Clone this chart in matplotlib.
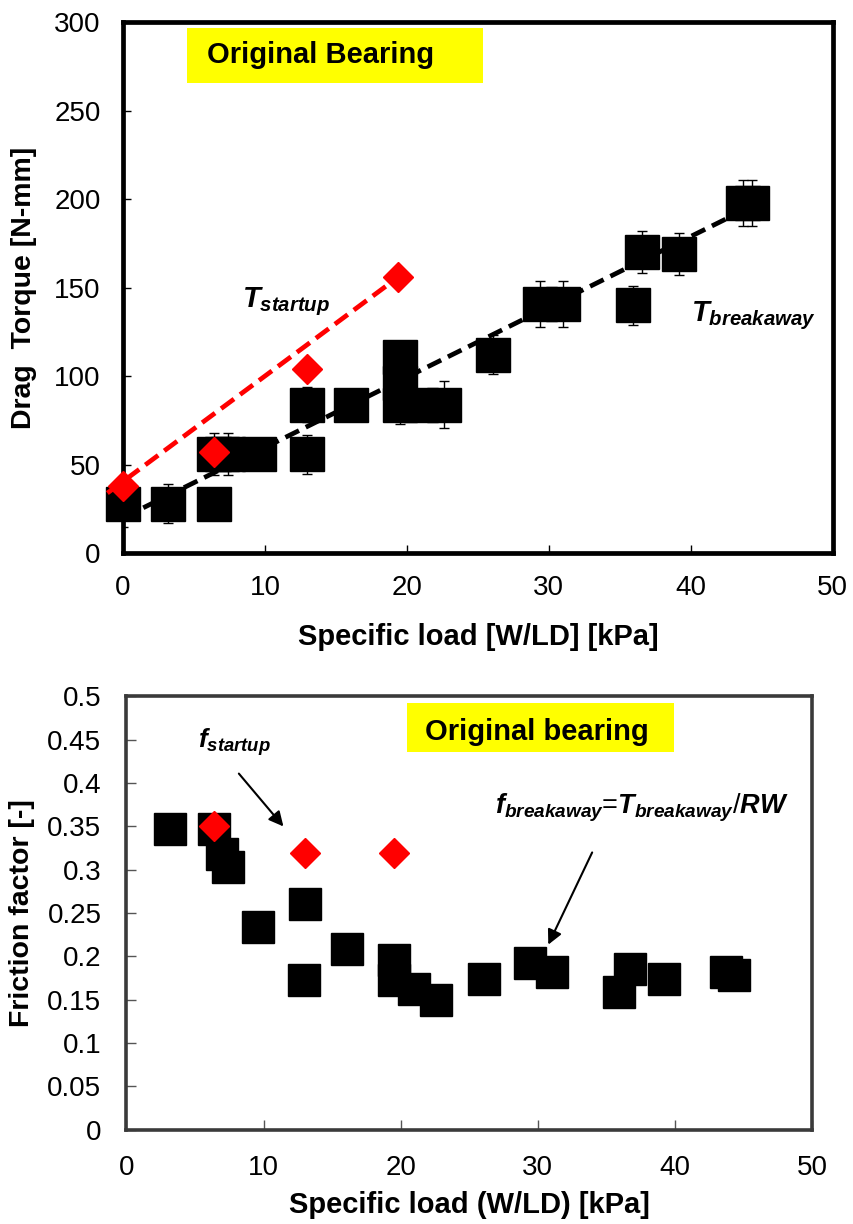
import matplotlib
matplotlib.use("Agg")
import matplotlib.pyplot as plt
from matplotlib.patches import Rectangle
from matplotlib.ticker import FuncFormatter, MultipleLocator

plt.rcParams['font.family'] = ['Liberation Sans', 'DejaVu Sans']
plt.rcParams['mathtext.fontset'] = 'custom'
plt.rcParams['mathtext.it'] = 'Liberation Sans:italic:bold'
plt.rcParams['mathtext.rm'] = 'Liberation Sans:bold'
plt.rcParams['mathtext.bf'] = 'Liberation Sans:bold'

# ---- Drag torque vs specific load ----
load_break = [0, 3.2, 6.4, 6.4, 7.0, 7.4, 9.6, 13.0, 13.0, 16.1, 19.5, 19.5, 19.5,
              21.0, 22.6, 26.1, 29.4, 31.0, 35.9, 36.6, 39.2, 43.7, 44.3]
torque_break = [28, 28, 28, 56, 56, 56, 56, 56, 84, 84, 84, 96, 111,
                84, 84, 112, 141, 141, 140, 170, 169, 198, 198]
torque_err = [13, 11, 0, 12, 0, 12, 0, 11, 10, 0, 11, 0, 0,
              0, 13, 11, 13, 13, 11, 12, 12, 13, 13]

load_start = [0, 6.4, 13.0, 19.4]
torque_start = [38, 57, 104, 156]

fit_break_x = [0, 43.8]
fit_break_y = [20, 194]
fit_start_x = [-1.1, 19.4]
fit_start_y = [34, 156]

# ---- Friction factor vs specific load ----
load_fric = [3.2, 6.4, 7.0, 7.4, 9.6, 13.0, 12.95, 16.1, 19.5, 19.5, 21.0, 22.6,
             26.1, 29.4, 31.0, 35.9, 36.7, 39.2, 43.7, 44.3]
fric_break = [0.347, 0.347, 0.318, 0.303, 0.234, 0.260, 0.173, 0.209, 0.196, 0.173,
              0.162, 0.150, 0.174, 0.192, 0.182, 0.159, 0.186, 0.174, 0.182, 0.179]
load_fric_start = [6.4, 13.0, 19.5]
fric_start = [0.350, 0.319, 0.319]

fig = plt.figure(figsize=(8.54, 12.24), dpi=100)

# ================= top panel =================
ax1 = fig.add_axes([0.144, 0.548, 0.831, 0.434])
ax1.plot(fit_break_x, fit_break_y, color='black', lw=3.4,
         linestyle=(0, (3.2, 1.6)), zorder=2, solid_capstyle='butt')
ax1.errorbar(load_break, torque_break, yerr=torque_err, fmt='none',
             ecolor='black', elinewidth=1.0, capsize=3.8, capthick=1.0, zorder=3)
ax1.plot(load_break, torque_break, linestyle='none', marker='s', ms=24.5,
         color='black', zorder=4, clip_on=False)
ax1.plot(fit_start_x, fit_start_y, color='#ff0000', lw=3.4,
         linestyle=(0, (3.4, 1.6)), zorder=5, clip_on=False)
ax1.plot(load_start, torque_start, linestyle='none', marker='D', ms=15,
         color='#ff0000', zorder=6, clip_on=False)

ax1.set_xlim(0, 50)
ax1.set_ylim(0, 300)
ax1.xaxis.set_major_locator(MultipleLocator(10))
ax1.yaxis.set_major_locator(MultipleLocator(50))
for s in ax1.spines.values():
    s.set_linewidth(3.4)
    s.set_color('black')
ax1.tick_params(axis='both', direction='in', length=6, width=1, labelsize=20,
                top=False, right=False)
ax1.tick_params(axis='y', pad=16)
ax1.tick_params(axis='x', pad=16)
ax1.set_xlabel('Specific load [W/LD] [kPa]', fontsize=21, fontweight='bold')
ax1.set_ylabel('Drag  Torque [N-mm]', fontsize=20.5, fontweight='bold')
ax1.xaxis.label.set_va('center')
ax1.yaxis.label.set_va('center')
ax1.xaxis.set_label_coords(0.5, -0.158)
ax1.yaxis.set_label_coords(-0.139, 0.5)

ax1.add_patch(Rectangle((0.090, 0.885), 0.418, 0.104, transform=ax1.transAxes,
                        facecolor='#ffff00', edgecolor='none', zorder=1))
ax1.text(0.118, 0.938, 'Original Bearing', transform=ax1.transAxes, fontsize=21,
         fontweight='bold', ha='left', va='center', zorder=7)
ax1.text(8.4, 142, r'$T_{startup}$', fontsize=21, ha='left', va='center', zorder=7)
ax1.text(40.0, 134, r'$T_{breakaway}$', fontsize=21, ha='left', va='center', zorder=7)

# ================= bottom panel =================
ax2 = fig.add_axes([0.148, 0.077, 0.803, 0.354])
ax2.plot(load_fric, fric_break, linestyle='none', marker='s', ms=22.5,
         color='black', zorder=4, clip_on=False)
ax2.plot(load_fric_start, fric_start, linestyle='none', marker='D', ms=15,
         color='#ff0000', zorder=6, clip_on=False)

ax2.set_xlim(0, 50)
ax2.set_ylim(0, 0.5)
ax2.xaxis.set_major_locator(MultipleLocator(10))
ax2.yaxis.set_major_locator(MultipleLocator(0.05))
ax2.yaxis.set_major_formatter(FuncFormatter(lambda v, p: f'{v:.2f}'.rstrip('0').rstrip('.') if v else '0'))
for s in ax2.spines.values():
    s.set_linewidth(2.6)
    s.set_color('#3a3a3a')
ax2.tick_params(axis='both', direction='in', length=7, width=1, labelsize=20,
                color='#555555', top=False, right=False)
ax2.tick_params(axis='y', pad=18)
ax2.tick_params(axis='x', pad=18)
ax2.set_xlabel('Specific load (W/LD) [kPa]', fontsize=21, fontweight='bold')
ax2.set_ylabel('Friction factor [-]', fontsize=20.5, fontweight='bold')
ax2.xaxis.label.set_va('center')
ax2.yaxis.label.set_va('center')
ax2.xaxis.set_label_coords(0.5, -0.173)
ax2.yaxis.set_label_coords(-0.152, 0.5)

ax2.add_patch(Rectangle((0.409, 0.871), 0.390, 0.115, transform=ax2.transAxes,
                        facecolor='#ffff00', edgecolor='none', zorder=1))
ax2.text(0.599, 0.919, 'Original bearing', transform=ax2.transAxes, fontsize=21,
         fontweight='bold', ha='center', va='center', zorder=7)

ax2.text(5.2, 0.447, r'$f_{startup}$', fontsize=19, ha='left', va='center', zorder=7)
ax2.annotate('', xy=(11.45, 0.35), xytext=(8.2, 0.411),
             arrowprops=dict(arrowstyle='-|>', color='black', lw=1.5,
                             mutation_scale=22, shrinkA=0, shrinkB=0))
ax2.text(26.9, 0.372, r'$f_{breakaway}$=$T_{breakaway}$/$RW$', fontsize=19.5,
         ha='left', va='center', zorder=7)
ax2.annotate('', xy=(30.76, 0.2136), xytext=(33.96, 0.32),
             arrowprops=dict(arrowstyle='-|>', color='black', lw=1.5,
                             mutation_scale=22, shrinkA=0, shrinkB=0))

fig.savefig('out.png', dpi=100)
